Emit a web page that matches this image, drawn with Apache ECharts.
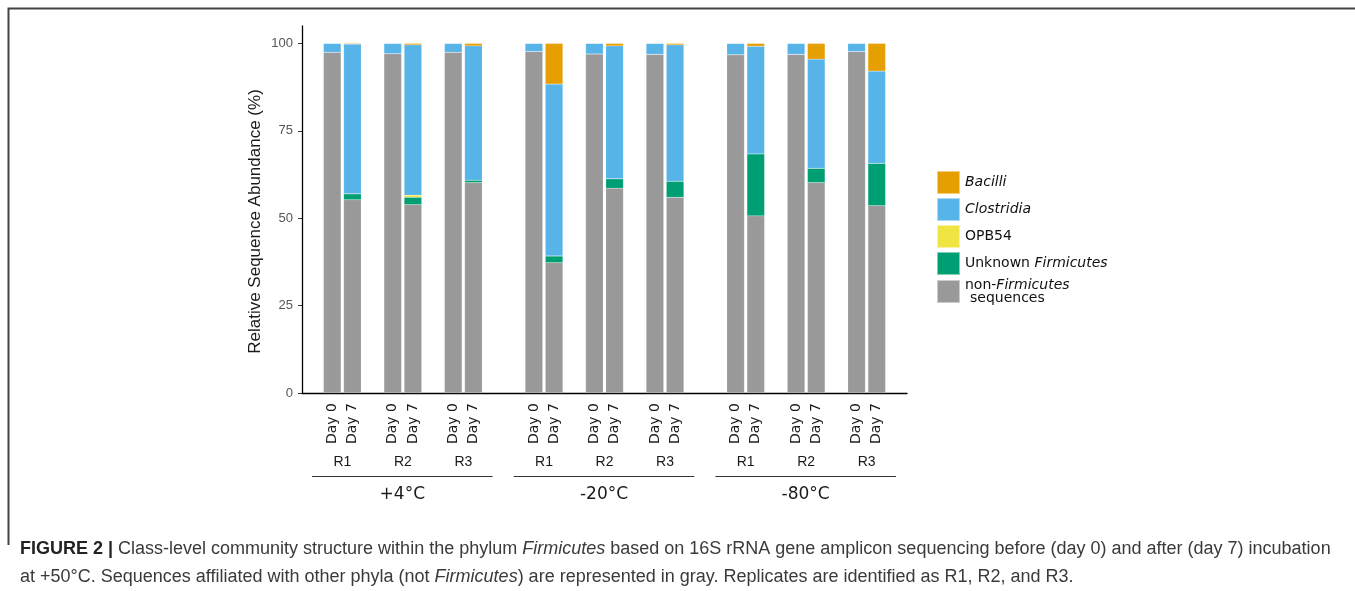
<!DOCTYPE html>
<html>
<head>
<meta charset="utf-8">
<script src="https://cdn.jsdelivr.net/npm/echarts@6/dist/echarts.min.js"></script>
<style>
html,body{margin:0;padding:0;background:#fff;}
#c{width:1355px;height:591px;}
</style>
</head>
<body>
<div id="c"></div>
<script>
// ---- data ----
const temps = ['+4°C', '-20°C', '-80°C'];
const reps = ['R1', 'R2', 'R3'];
const days = ['Day 0', 'Day 7'];
// order: temp -> replicate -> day
const nonFirmicutes     = [97.5, 55.3, 97.1, 53.9, 97.5, 60.2, 97.7, 37.3, 97.0, 58.6, 96.9, 56.0, 96.8, 50.7, 96.9, 60.2, 97.7, 53.6];
const unknownFirmicutes = [0, 1.7, 0, 2.1, 0, 0.7, 0, 1.9, 0, 2.7, 0, 4.6, 0, 17.7, 0, 4.1, 0, 12.1];
const opb54             = [0, 0, 0, 0.6, 0, 0, 0, 0, 0, 0, 0, 0, 0, 0, 0, 0, 0, 0];
const clostridia        = [2.5, 42.8, 2.9, 43.0, 2.5, 38.4, 2.3, 49.2, 3.0, 38.0, 3.1, 39.0, 3.2, 30.8, 3.1, 31.2, 2.3, 26.4];
const bacilli           = [0, 0.2, 0, 0.4, 0, 0.7, 0, 11.6, 0, 0.7, 0, 0.4, 0, 0.8, 0, 4.5, 0, 7.9];
const yTicks = [0, 25, 50, 75, 100];

// ---- layout of category slots (blank slots separate pairs / groups) ----
const NSLOT = 30;
function slotOf(g, r, d) { return 1 + g * 10 + r * 3 + d; }
const cats = new Array(NSLOT).fill('');
temps.forEach((t, g) => reps.forEach((rp, r) => days.forEach((dy, d) => { cats[slotOf(g, r, d)] = dy; })));
function toSlots(arr) {
  const out = new Array(NSLOT).fill('-');
  let k = 0;
  temps.forEach((t, g) => reps.forEach((rp, r) => days.forEach((dy, d) => { out[slotOf(g, r, d)] = arr[k++]; })));
  return out;
}

const colors = {
  'Bacilli': '#E69F00',
  'Clostridia': '#56B4E9',
  'OPB54': '#F0E442',
  'Unknown Firmicutes': '#009E73',
  'non-Firmicutes sequences': '#999999'
};
const seriesDefs = [
  ['non-Firmicutes sequences', nonFirmicutes],
  ['Unknown Firmicutes', unknownFirmicutes],
  ['OPB54', opb54],
  ['Clostridia', clostridia],
  ['Bacilli', bacilli]
];

const chart = echarts.init(document.getElementById('c'), null, {renderer: 'canvas'});

const legendFmt = {
  'Bacilli': '{i|Bacilli}',
  'Clostridia': '{i|Clostridia}',
  'OPB54': '{n|OPB54}',
  'Unknown Firmicutes': '{n|Unknown }{i|Firmicutes}',
  'non-Firmicutes sequences': '{n|non-}{i|Firmicutes}\n{s|sequences}'
};

const option = {
  animation: false,
  backgroundColor: '#ffffff',
  grid: {left: 302, right: 448, top: 26, bottom: 198, containLabel: false},
  xAxis: {
    type: 'category',
    data: cats,
    boundaryGap: true,
    axisLine: {lineStyle: {color: '#000', width: 1.3}},
    axisTick: {
      alignWithLabel: true, length: 4, lineStyle: {color: '#333'},
      interval: function (idx) { return cats[idx] !== ''; }
    },
    axisLabel: {
      interval: 0, rotate: 90, margin: 10,
      fontFamily: 'DejaVu Sans', fontSize: 14, color: '#1a1a1a'
    },
    splitLine: {show: false}
  },
  yAxis: {
    type: 'value', min: 0, max: 105,
    name: 'Relative Sequence Abundance (%)',
    nameLocation: 'middle', nameRotate: 90, nameGap: 38,
    nameTextStyle: {fontFamily: 'Liberation Sans', fontSize: 17, color: '#1a1a1a', padding: [0, 24, 0, 0]},
    axisLine: {show: true, lineStyle: {color: '#000', width: 1.3}},
    axisTick: {show: true, length: 4, customValues: yTicks, lineStyle: {color: '#333'}},
    axisLabel: {customValues: yTicks, margin: 9, fontFamily: 'Liberation Sans', fontSize: 13, color: '#555'},
    splitLine: {show: false}
  },
  legend: {
    orient: 'vertical', left: 931, top: 165,
    itemWidth: 23, itemHeight: 23, itemGap: 2, icon: 'rect',
    data: ['Bacilli', 'Clostridia', 'OPB54', 'Unknown Firmicutes', 'non-Firmicutes sequences'],
    formatter: function (name) { return legendFmt[name]; },
    textStyle: {
      fontFamily: 'DejaVu Sans', fontSize: 14, color: '#111',
      rich: {
        i: {fontFamily: 'DejaVu Sans', fontStyle: 'italic', fontSize: 14, color: '#111', lineHeight: 13},
        n: {fontFamily: 'DejaVu Sans', fontSize: 14, color: '#111', lineHeight: 13},
        s: {fontFamily: 'DejaVu Sans', fontSize: 14, color: '#111', lineHeight: 13, padding: [0, 0, 0, 5]}
      }
    },
    selectedMode: false
  },
  title: {
    left: 20, top: 535, padding: 0,
    text: '{b|FIGURE 2 |} {n|Class-level community structure within the phylum }{i|Firmicutes}{n| based on 16S rRNA gene amplicon sequencing before (day 0) and after (day 7) incubation}\n{n|at +50°C. Sequences affiliated with other phyla (not }{i|Firmicutes}{n|) are represented in gray. Replicates are identified as R1, R2, and R3.}',
    textStyle: {
      fontWeight: 'normal', fontFamily: 'Liberation Sans', fontSize: 18, color: '#333',
      rich: {
        b: {fontFamily: 'Liberation Sans', fontWeight: 'bold', fontSize: 18, color: '#222', lineHeight: 28},
        n: {fontFamily: 'Liberation Sans', fontWeight: 'normal', fontSize: 18, color: '#3a3a3a', lineHeight: 28},
        i: {fontFamily: 'Liberation Sans', fontWeight: 'normal', fontStyle: 'italic', fontSize: 18, color: '#3a3a3a', lineHeight: 28}
      }
    }
  },
  series: seriesDefs.map(([name, arr]) => ({
    name: name,
    type: 'bar',
    stack: 'total',
    barWidth: 17.5,
    data: toSlots(arr),
    itemStyle: {color: colors[name], borderColor: 'rgba(255,255,255,0.5)', borderWidth: 0.3}
  })),
  graphic: []
};
chart.setOption(option);

// Annotations under the axis: replicate labels, group lines and temperature labels
const px = i => chart.convertToPixel({xAxisIndex: 0}, i);
const slotW = px(2) - px(1);
const g = [];
g.push({type: 'polyline', shape: {points: [[8.5, 545], [8.5, 8.5], [1355, 8.5]]}, style: {stroke: '#444', lineWidth: 2, fill: null}, silent: true});
temps.forEach((t, gi) => {
  reps.forEach((rp, r) => {
    const cx = (px(slotOf(gi, r, 0)) + px(slotOf(gi, r, 1))) / 2;
    g.push({type: 'text', x: cx, y: 462, style: {text: rp, fontFamily: 'Liberation Sans', fontSize: 14, fill: '#1a1a1a', align: 'center', verticalAlign: 'middle'}, silent: true});
  });
  const x0 = px(slotOf(gi, 0, 0)) - 1.0 * slotW;
  const x1 = px(slotOf(gi, 2, 1)) + 0.95 * slotW;
  g.push({type: 'line', shape: {x1: x0, y1: 476.5, x2: x1, y2: 476.5}, style: {stroke: '#333', lineWidth: 1}, silent: true});
  g.push({type: 'text', x: (x0 + x1) / 2, y: 495, style: {text: t, fontFamily: 'DejaVu Sans', fontSize: 17, fill: '#1a1a1a', align: 'center', verticalAlign: 'middle'}, silent: true});
});
chart.setOption({graphic: g});
</script>
</body>
</html>
